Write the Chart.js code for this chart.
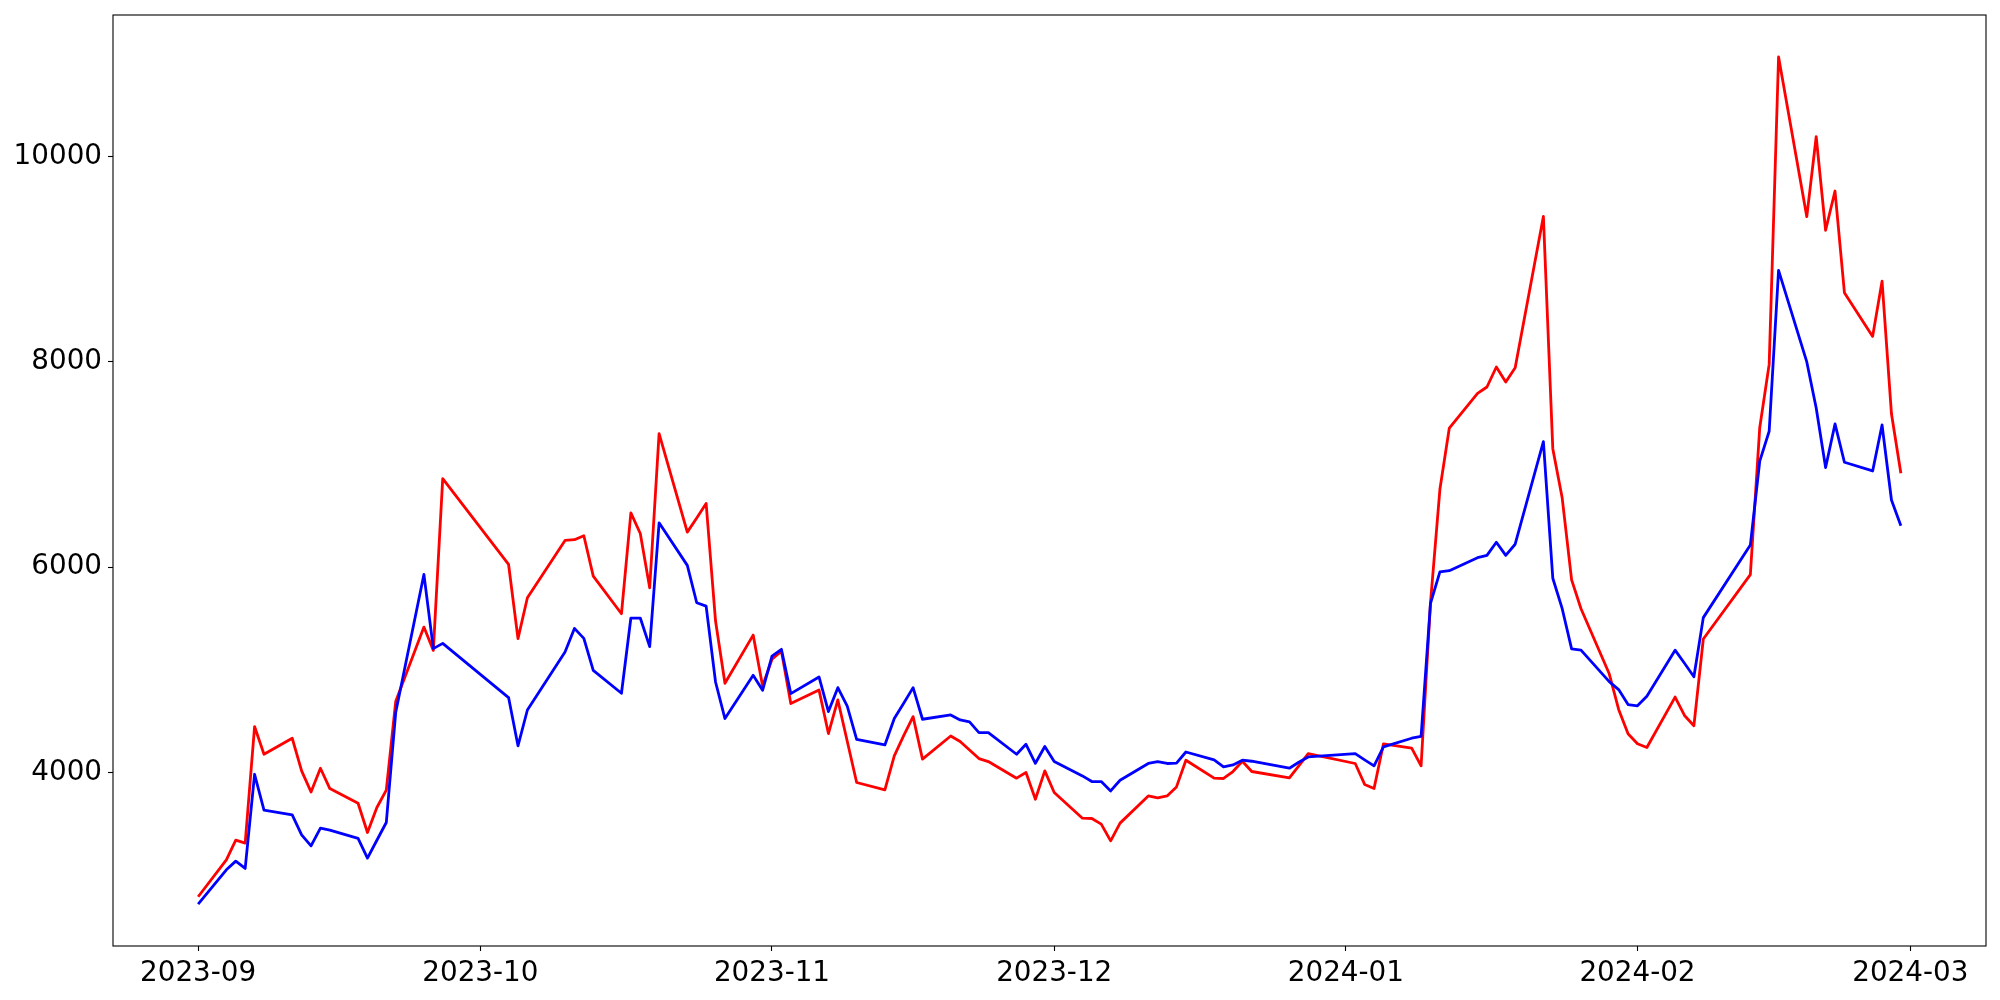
<!DOCTYPE html>
<html>
<head>
<meta charset="utf-8">
<title>Line chart</title>
<script src="https://cdn.jsdelivr.net/npm/chart.js@4.4.1/dist/chart.umd.min.js"></script>
<style>
    html, body { margin: 0; padding: 0; background: #fff; }
    #wrap { width: 2000px; height: 1000px; position: relative; }
</style>
</head>
<body>
<div id="wrap"><canvas id="lineChart"></canvas></div>
<script>
// Trading days (weekends and holidays skipped)
const dates = [
    "2023-09-01", "2023-09-04", "2023-09-05", "2023-09-06", "2023-09-07", "2023-09-08", "2023-09-11", "2023-09-12", "2023-09-13", "2023-09-14",
    "2023-09-15", "2023-09-18", "2023-09-19", "2023-09-20", "2023-09-21", "2023-09-22", "2023-09-25", "2023-09-26", "2023-09-27",
    "2023-10-04", "2023-10-05", "2023-10-06", "2023-10-10", "2023-10-11", "2023-10-12", "2023-10-13", "2023-10-16", "2023-10-17", "2023-10-18",
    "2023-10-19", "2023-10-20", "2023-10-23", "2023-10-24", "2023-10-25", "2023-10-26", "2023-10-27", "2023-10-30", "2023-10-31",
    "2023-11-01", "2023-11-02", "2023-11-03", "2023-11-06", "2023-11-07", "2023-11-08", "2023-11-09", "2023-11-10", "2023-11-13", "2023-11-14",
    "2023-11-15", "2023-11-16", "2023-11-17", "2023-11-20", "2023-11-21", "2023-11-22", "2023-11-23", "2023-11-24", "2023-11-27", "2023-11-28",
    "2023-11-29", "2023-11-30",
    "2023-12-01", "2023-12-04", "2023-12-05", "2023-12-06", "2023-12-07", "2023-12-08", "2023-12-11", "2023-12-12", "2023-12-13", "2023-12-14",
    "2023-12-15", "2023-12-18", "2023-12-19", "2023-12-20", "2023-12-21", "2023-12-22", "2023-12-26", "2023-12-27", "2023-12-28",
    "2024-01-02", "2024-01-03", "2024-01-04", "2024-01-05", "2024-01-08", "2024-01-09", "2024-01-10", "2024-01-11", "2024-01-12", "2024-01-15",
    "2024-01-16", "2024-01-17", "2024-01-18", "2024-01-19", "2024-01-22", "2024-01-23", "2024-01-24", "2024-01-25", "2024-01-26", "2024-01-29",
    "2024-01-30", "2024-01-31",
    "2024-02-01", "2024-02-02", "2024-02-05", "2024-02-06", "2024-02-07", "2024-02-08", "2024-02-13", "2024-02-14", "2024-02-15", "2024-02-16",
    "2024-02-19", "2024-02-20", "2024-02-21", "2024-02-22", "2024-02-23", "2024-02-26", "2024-02-27", "2024-02-28", "2024-02-29"
];

const redValues = [
    2790, 3150, 3341, 3312, 4448, 4178, 4334, 4016, 3811, 4042, 3844, 3701, 3416, 3659, 3828, 4691, 5417, 5190, 6864,
    6027, 5304, 5703, 6261, 6268, 6307, 5913, 5547, 6530, 6329, 5800, 7302, 6342, 6480, 6621, 5476, 4869, 5339, 4843,
    5103, 5183, 4672, 4804, 4380, 4707, 4305, 3903, 3831, 4162, 4360, 4545, 4130, 4356, 4302, 4220, 4136, 4107, 3945, 4000, 3740, 4016,
    3805, 3555, 3552, 3497, 3334, 3507, 3772, 3753, 3772, 3860, 4120, 3945, 3942, 4010, 4110, 4010, 3948, 4065, 4185,
    4088, 3884, 3845, 4280, 4238, 4065, 5655, 6759, 7356, 7693, 7756, 7951, 7805, 7944, 9418, 7155, 6674, 5877, 5596, 4962, 4615, 4377,
    4280, 4244, 4735, 4556, 4456, 5301, 5928, 7362, 7976, 10971, 9415, 10194, 9283, 9665, 8675, 8249, 8787, 7495, 6915
];

const blueValues = [
    2718, 3052, 3137, 3066, 3983, 3633, 3588, 3393, 3286, 3458, 3438, 3358, 3166, 3340, 3513, 4584, 5930, 5207, 5258,
    4730, 4260, 4609, 5174, 5404, 5307, 4996, 4772, 5505, 5505, 5226, 6433, 6018, 5654, 5621, 4882, 4526, 4947, 4801,
    5135, 5200, 4769, 4931, 4594, 4827, 4648, 4324, 4269, 4526, 4674, 4827, 4519, 4561, 4512, 4493, 4389, 4389, 4178, 4275, 4090, 4253,
    4107, 3967, 3912, 3912, 3821, 3925, 4088, 4107, 4088, 4091, 4200, 4123, 4055, 4074, 4120, 4110, 4042, 4100, 4152,
    4184, 4123, 4065, 4250, 4334, 4353, 5647, 5954, 5966, 6093, 6116, 6243, 6116, 6224, 7224, 5893, 5596, 5204, 5192, 4885, 4808, 4662,
    4650, 4744, 5192, 5065, 4933, 5509, 6216, 7033, 7325, 8892, 8000, 7551, 6971, 7396, 7023, 6938, 7386, 6655, 6405
];

const monthTicks = ["2023-09", "2023-10", "2023-11", "2023-12", "2024-01", "2024-02", "2024-03"];
const yTicks = [4000, 6000, 8000, 10000];

// x axis is linear in days from the first date (no date adapter available)
const DAY = 86400000;
const t0 = Date.parse(dates[0] + "T00:00:00Z");
function dayOf(str) {
    return (Date.parse(str + "T00:00:00Z") - t0) / DAY;
}
const xDays = dates.map(dayOf);
const monthDays = monthTicks.map(function (m) { return dayOf(m + "-01"); });

const redPoints = xDays.map(function (x, i) { return { x: x, y: redValues[i] }; });
const bluePoints = xDays.map(function (x, i) { return { x: x, y: blueValues[i] }; });

// matplotlib-like box around the plot
const frame = {
    id: "frame",
    afterDatasetsDraw: function (chart) {
        const a = chart.chartArea;
        const ctx = chart.ctx;
        ctx.save();
        ctx.strokeStyle = "#000";
        ctx.lineWidth = 1.1;
        ctx.strokeRect(a.left, a.top, a.right - a.left, a.bottom - a.top);
        ctx.restore();
    }
};

Chart.defaults.font.family = "'DejaVu Sans', sans-serif";
Chart.defaults.color = "#000";

const tickFont = { size: 27.8 };
const tickGrid = {
    display: true,
    drawOnChartArea: false,
    drawTicks: true,
    tickLength: 5,
    tickWidth: 1.1,
    tickColor: "#000"
};

// keep the plot box where the layout padding puts it
function noPad(scale) {
    scale.paddingTop = 0;
    scale.paddingBottom = 0;
    scale.paddingLeft = 0;
    scale.paddingRight = 0;
}

var ctxLine = document.getElementById("lineChart").getContext("2d");
var lineChart = new Chart(ctxLine, {
    type: "line",
    data: {
        datasets: [
            {
                label: "red",
                data: redPoints,
                borderColor: "#ff0000",
                borderWidth: 2.8,
                pointRadius: 0,
                tension: 0,
                fill: false,
                order: 1,
                borderJoinStyle: "round"
            },
            {
                label: "blue",
                data: bluePoints,
                borderColor: "#0000ff",
                borderWidth: 2.8,
                pointRadius: 0,
                tension: 0,
                fill: false,
                order: 0,
                borderJoinStyle: "round"
            }
        ]
    },
    options: {
        responsive: true,
        maintainAspectRatio: false,
        animation: false,
        layout: { padding: { top: 15, right: 14, left: 0, bottom: 0 } },
        plugins: {
            legend: { display: false },
            tooltip: { enabled: false }
        },
        scales: {
            x: {
                type: "linear",
                min: -9.05,
                max: 190.05,
                grid: tickGrid,
                border: { display: false },
                ticks: {
                    font: tickFont,
                    padding: 6,
                    maxRotation: 0,
                    autoSkip: false,
                    callback: function (value, index) { return monthTicks[index]; }
                },
                afterBuildTicks: function (scale) {
                    scale.ticks = monthDays.map(function (d) { return { value: d }; });
                },
                afterFit: function (scale) {
                    scale.height = 54;
                    noPad(scale);
                }
            },
            y: {
                type: "linear",
                min: 2310,
                max: 11380,
                grid: tickGrid,
                border: { display: false },
                ticks: {
                    font: tickFont,
                    padding: 6,
                    callback: function (value) { return String(value); }
                },
                afterBuildTicks: function (scale) {
                    scale.ticks = yTicks.map(function (v) { return { value: v }; });
                },
                afterFit: function (scale) {
                    scale.width = 113;
                    noPad(scale);
                }
            }
        }
    },
    plugins: [frame]
});
</script>
</body>
</html>
